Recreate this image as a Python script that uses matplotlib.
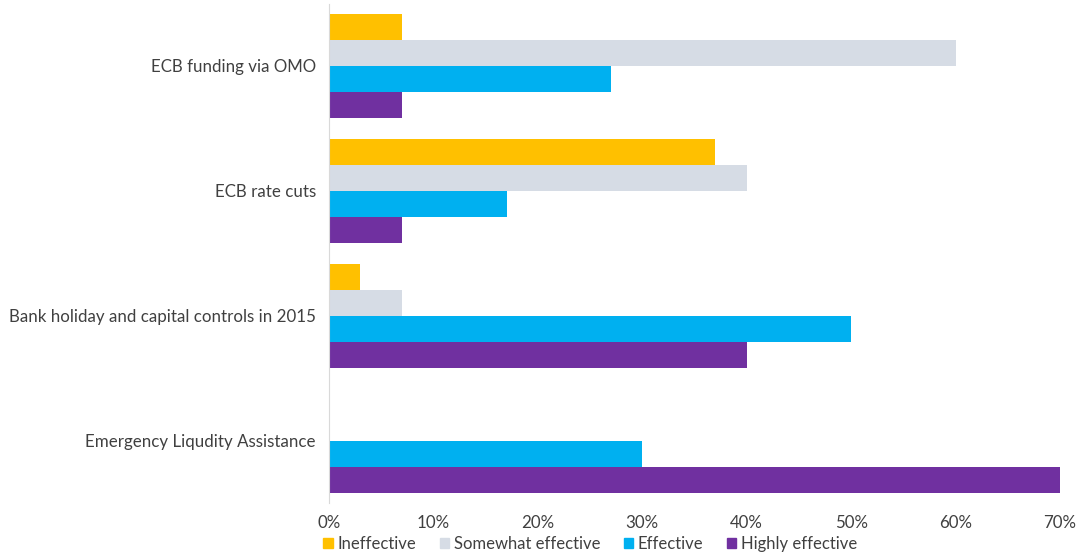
import matplotlib
matplotlib.use("Agg")
import matplotlib.pyplot as plt
import numpy as np
from matplotlib.patches import Patch
from matplotlib.ticker import FuncFormatter

categories = ["ECB funding via OMO", "ECB rate cuts",
              "Bank holiday and capital controls in 2015",
              "Emergency Liqudity Assistance"]
series_names = ["Ineffective", "Somewhat effective", "Effective", "Highly effective"]
ineffective = [7, 37, 3, 0]
somewhat = [60, 40, 7, 0]
effective = [27, 17, 50, 30]
highly = [7, 7, 40, 70]
colors = ["#FFC000", "#D6DCE5", "#00B0F0", "#7030A0"]
xticks = [0, 10, 20, 30, 40, 50, 60, 70]

plt.rcParams['font.family'] = ['Lato', 'DejaVu Sans']
fig = plt.figure(figsize=(10.82, 5.54), dpi=100)
ax = fig.add_axes([329/1082, 1 - 503/554, 731/1082, 499.5/554])

y = np.arange(len(categories))
h = 0.208
for i, (vals, c) in enumerate(zip([ineffective, somewhat, effective, highly], colors)):
    ax.barh(y + (i - 1.5) * h, vals, height=h, color=c, label=series_names[i])

ax.set_ylim(3.5, -0.5)
ax.set_xlim(0, 70)
ax.set_yticks(y)
ax.set_yticklabels(categories, fontsize=12.2, color="#404040")
ax.set_xticks(xticks)
ax.xaxis.set_major_formatter(FuncFormatter(lambda v, p: f"{int(v)}%"))
ax.tick_params(axis='x', length=0, pad=9, labelsize=12.2, labelcolor="#404040")
ax.tick_params(axis='y', length=0, pad=9.5)
for s in ["top", "right", "bottom"]:
    ax.spines[s].set_visible(False)
ax.spines["left"].set_color("#D9D9D9")

handles = [Patch(color=c) for c in colors]
fig.legend(handles, series_names, loc="center left", bbox_to_anchor=(315/1082, 1 - 544/554),
           ncol=4, frameon=False, fontsize=12, handlelength=0.55, handleheight=0.55,
           handletextpad=0.3, columnspacing=1.4, labelcolor="#404040", borderpad=0)

fig.savefig("out.png", dpi=100)
